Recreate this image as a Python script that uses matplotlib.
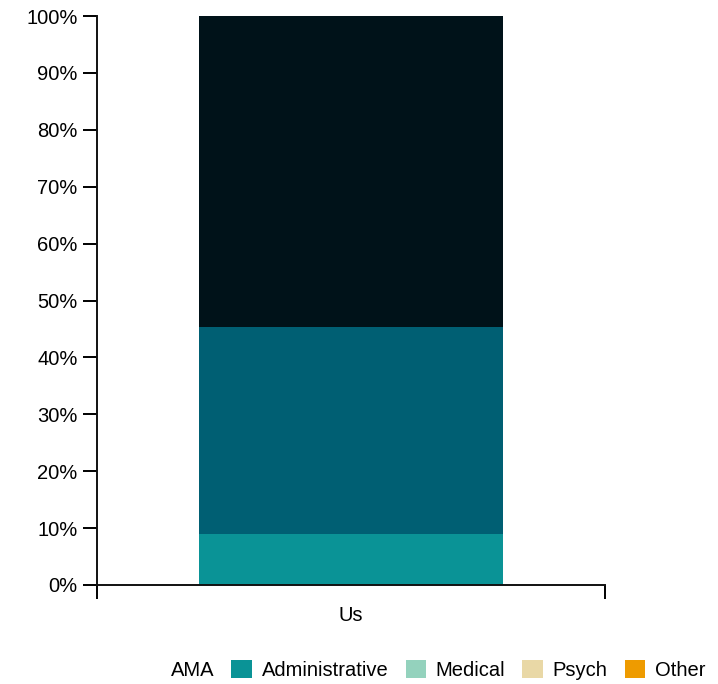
import numpy as np
import matplotlib
matplotlib.use("Agg")
import matplotlib.pyplot as plt
from matplotlib.patches import Patch

plt.rcParams['font.family'] = ['Liberation Sans', 'DejaVu Sans']

# data
categories = ['Us']
segment_names = ['Administrative', 'AMA', 'Top']
segment_values = [9.0, 36.4, 54.6]
segment_colors = ['#0a9396', '#005f73', '#001219']

legend_labels = ['AMA', 'Administrative', 'Medical', 'Psych', 'Other']
legend_colors = [None, '#0a9396', '#94d2bd', '#e9d8a6', '#ee9b00']

fig = plt.figure(figsize=(7.18, 6.84), dpi=100)
ax = fig.add_axes([97 / 718, 1 - 585 / 684, 508 / 718, 569 / 684])

x = np.array([0.5])
bottom = np.zeros(len(categories))
for name, val, col in zip(segment_names, segment_values, segment_colors):
    ax.bar(x, [val], width=0.6, bottom=bottom, color=col, label=name)
    bottom += val

ax.set_xlim(0, 1)
ax.set_ylim(0, 100)

# y axis
ax.set_yticks(np.arange(0, 101, 10))
ax.set_yticklabels([f'{v}%' for v in range(0, 101, 10)])
ax.tick_params(axis='y', length=10, width=1.4, pad=4, labelsize=14.5)

# x axis: outer ticks at both ends, category label with no tick
ax.set_xticks([0, 1])
ax.set_xticklabels(['', ''])
ax.tick_params(axis='x', length=10, width=1.4)
ax.set_xticks(x, minor=True)
ax.set_xticklabels(categories, minor=True)
ax.tick_params(axis='x', which='minor', length=0, pad=15, labelsize=14.5)

for s in ['top', 'right']:
    ax.spines[s].set_visible(False)
for s in ['left', 'bottom']:
    ax.spines[s].set_linewidth(1.4)
    ax.spines[s].set_color('#111111')

handles = []
for lab, col in zip(legend_labels, legend_colors):
    if col is None:
        handles.append(Patch(facecolor='none', edgecolor='none', label=lab))
    else:
        handles.append(Patch(facecolor=col, edgecolor='none', label=lab))

fig.legend(handles=handles, loc='center', ncol=len(handles),
           bbox_to_anchor=(423 / 718, 1 - 670 / 684), frameon=False,
           fontsize=14.5, handlelength=1.0, handleheight=1.0,
           handletextpad=0.5, columnspacing=0.85, borderpad=0)

fig.savefig('out.png', dpi=100)
